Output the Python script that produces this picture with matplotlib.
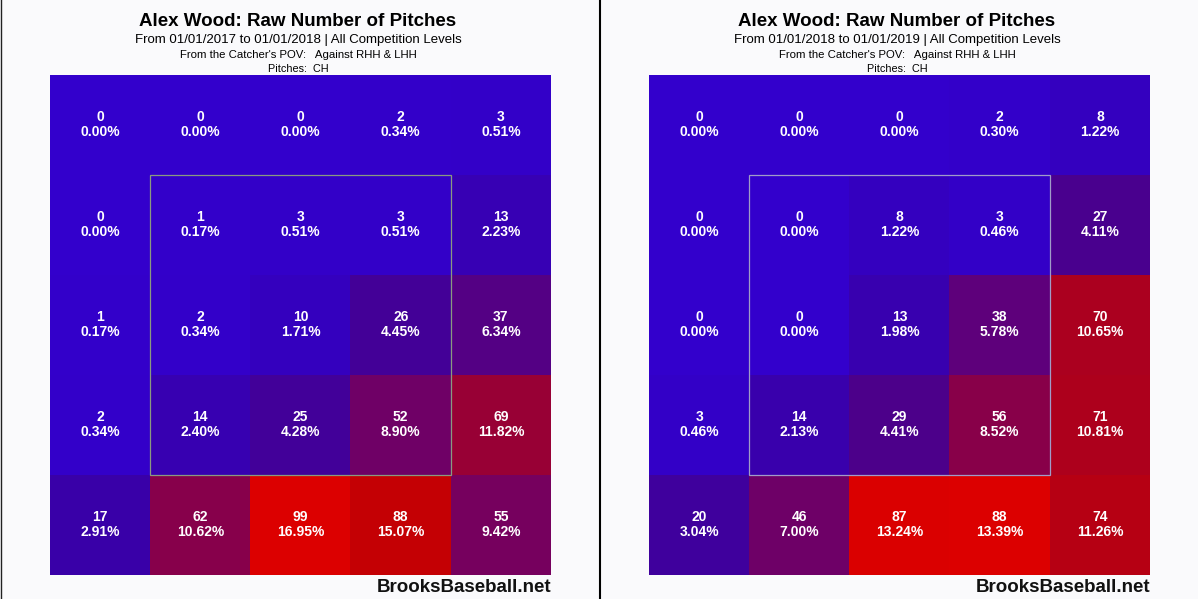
import matplotlib
matplotlib.use('Agg')
import matplotlib.pyplot as plt
from matplotlib.colors import LinearSegmentedColormap
from matplotlib.patches import Rectangle
import numpy as np

plt.rcParams['font.family'] = ['Liberation Sans', 'DejaVu Sans']

# counts per zone, rows from top to bottom (catcher's POV)
counts_2017 = [
    [0, 0, 0, 2, 3],
    [0, 1, 3, 3, 13],
    [1, 2, 10, 26, 37],
    [2, 14, 25, 52, 69],
    [17, 62, 99, 88, 55],
]
pcts_2017 = [
    ['0.00%', '0.00%', '0.00%', '0.34%', '0.51%'],
    ['0.00%', '0.17%', '0.51%', '0.51%', '2.23%'],
    ['0.17%', '0.34%', '1.71%', '4.45%', '6.34%'],
    ['0.34%', '2.40%', '4.28%', '8.90%', '11.82%'],
    ['2.91%', '10.62%', '16.95%', '15.07%', '9.42%'],
]
counts_2018 = [
    [0, 0, 0, 2, 8],
    [0, 0, 8, 3, 27],
    [0, 0, 13, 38, 70],
    [3, 14, 29, 56, 71],
    [20, 46, 87, 88, 74],
]
pcts_2018 = [
    ['0.00%', '0.00%', '0.00%', '0.30%', '1.22%'],
    ['0.00%', '0.00%', '1.22%', '0.46%', '4.11%'],
    ['0.00%', '0.00%', '1.98%', '5.78%', '10.65%'],
    ['0.46%', '2.13%', '4.41%', '8.52%', '10.81%'],
    ['3.04%', '7.00%', '13.24%', '13.39%', '11.26%'],
]
subtitles = ['From 01/01/2017 to 01/01/2018 | All Competition Levels',
             'From 01/01/2018 to 01/01/2019 | All Competition Levels']

# blue -> purple -> red scale
cmap = LinearSegmentedColormap.from_list('brooks', [
    (0.00, '#3300cc'), (0.10, '#3500be'), (0.17, '#3a00a8'),
    (0.25, '#42009a'), (0.33, '#4d008a'), (0.43, '#5e007c'),
    (0.52, '#6e0068'), (0.64, '#8a0048'), (0.70, '#990035'),
    (0.82, '#b0001a'), (0.89, '#c40005'), (1.00, '#dc0000')])

W, H = 1198, 599
fig = plt.figure(figsize=(W / 100, H / 100), dpi=100)
fig.patch.set_facecolor('#fafafc')

panels = [
    (50, counts_2017, pcts_2017, subtitles[0], '#8a9a80'),
    (649, counts_2018, pcts_2018, subtitles[1], '#a09cc8'),
]

for x0, counts, pcts, sub, zone_col in panels:
    ax = fig.add_axes([x0 / W, (H - 575) / H, 501 / W, 500 / H])
    arr = np.array(counts, dtype=float)
    ax.imshow(arr / arr.max(), cmap=cmap, vmin=0, vmax=1,
              extent=(0, 5, 5, 0), interpolation='nearest', aspect='auto')
    ax.set_xlim(0, 5)
    ax.set_ylim(5, 0)
    ax.axis('off')
    for r in range(5):
        for c in range(5):
            ax.text(c + 0.5, r + 0.5 - 0.08, str(counts[r][c]), color='white',
                    ha='center', va='center', fontsize=10, fontweight='bold')
            ax.text(c + 0.5, r + 0.5 + 0.07, pcts[r][c], color='white',
                    ha='center', va='center', fontsize=10, fontweight='bold')
    ax.add_patch(Rectangle((1, 1), 3, 3, fill=False, edgecolor=zone_col, lw=0.9))

    cx = (x0 + 248) / W
    fig.text(cx, 1 - 22 / H, 'Alex Wood: Raw Number of Pitches', ha='center', va='center',
             fontsize=13.5, fontweight='bold')
    fig.text(cx, 1 - 40 / H, sub, ha='center', va='center', fontsize=9.5)
    fig.text(cx, 1 - 55 / H, "From the Catcher's POV:   Against RHH & LHH",
             ha='center', va='center', fontsize=8.2)
    fig.text(cx, 1 - 69 / H, 'Pitches:  CH', ha='center', va='center', fontsize=7.8)
    fig.text((x0 + 501) / W, 1 - 587 / H, 'BrooksBaseball.net', ha='right', va='center',
             fontsize=13.5, fontweight='bold', color='#111111')

# panel separators
fig.add_artist(plt.Line2D([599.5 / W, 599.5 / W], [0, 1], color='black', lw=1.5))
fig.add_artist(plt.Line2D([0.5 / W, 0.5 / W], [0, 1], color='#222222', lw=1))

fig.savefig('out.png', dpi=100, facecolor=fig.get_facecolor())
